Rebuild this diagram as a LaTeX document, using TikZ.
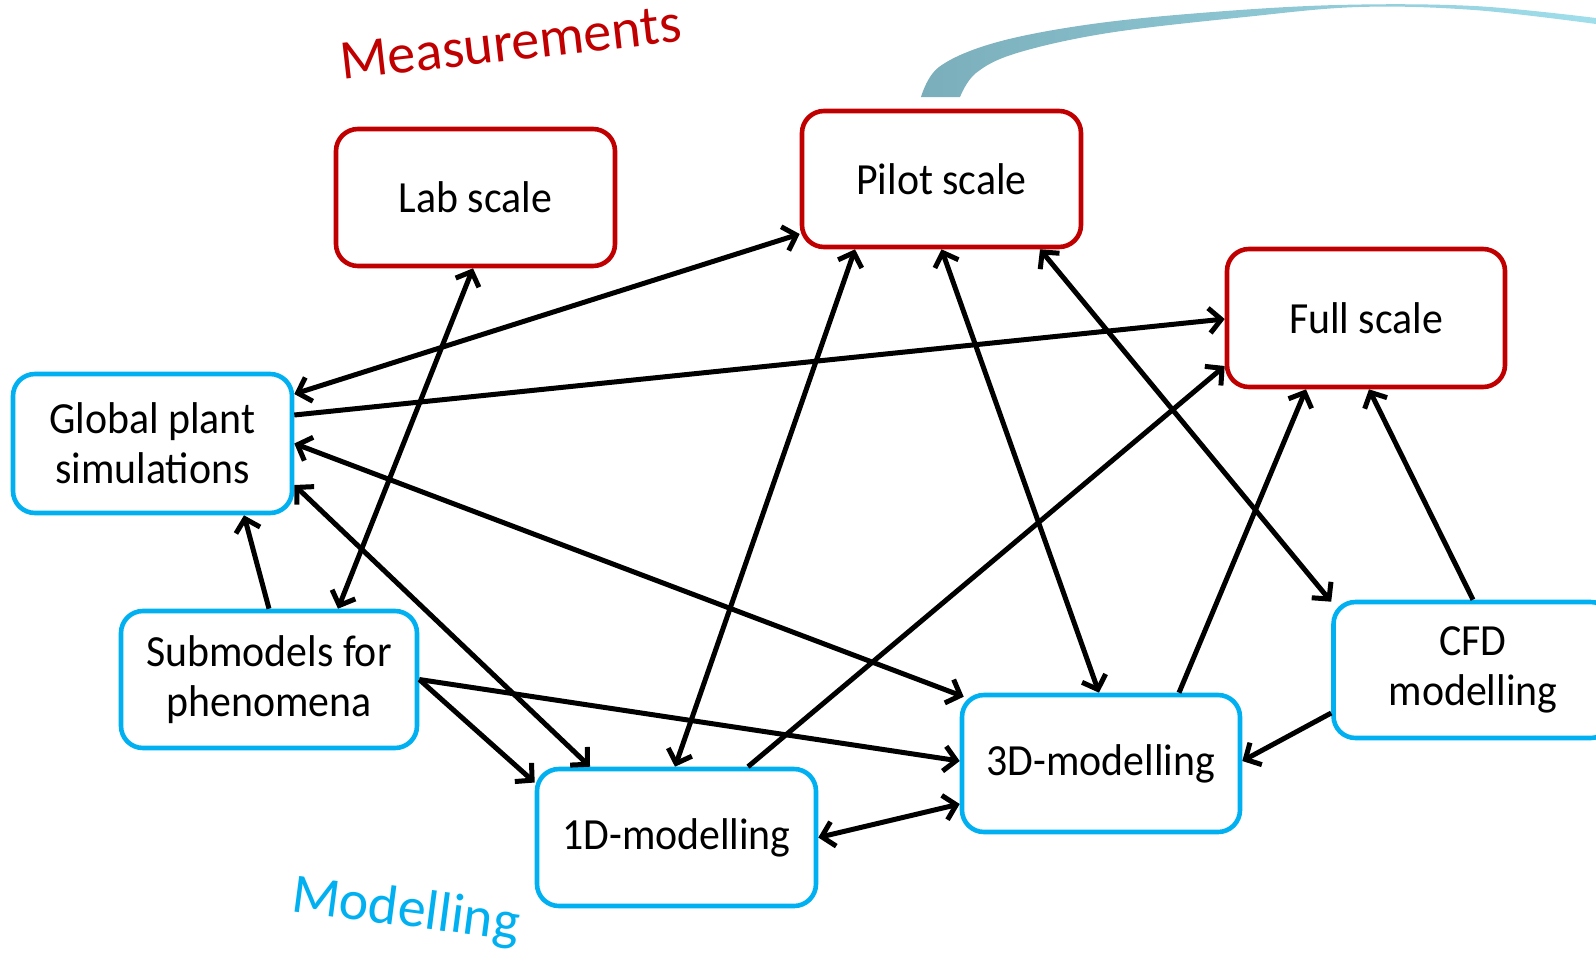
\documentclass[tikz,border=0pt]{standalone}
\usepackage{fontspec}
\setmainfont{Carlito}
\newfontfamily\boxfont[FakeStretch=0.94]{Carlito}
\usetikzlibrary{arrows.meta}
\definecolor{mred}{RGB}{192,0,0}
\definecolor{mblue}{RGB}{0,176,240}
\definecolor{swA}{RGB}{122,174,186}
\definecolor{swB}{RGB}{160,222,236}
\begin{document}
\begin{tikzpicture}[x=1pt,y=-1pt,
  box/.style={draw,line width=4.6pt,rounded corners=22pt,minimum width=279pt,minimum height=137pt,align=center,font=\boxfont\fontsize{44.5}{50}\selectfont,inner sep=0pt},
  meas/.style={box,draw=mred},
  modl/.style={box,draw=mblue},
  conn/.style={line width=5pt,black},
  >={Straight Barb[length=12pt,width=25pt]},
  lbl/.style={font=\fontsize{56}{60}\selectfont,inner sep=0pt}
]
\useasboundingbox (0,0) rectangle (1596,962);
\clip (0,0) rectangle (1596,962);
% swoosh
\shade[left color=swA,middle color=swA,right color=swB]
  plot[smooth,tension=0.6] coordinates {(921,97) (939,67) (994,43) (1085,25) (1200,13) (1337,5) (1474,6) (1596,18)}
  -- plot[smooth,tension=0.6] coordinates {(1596,24) (1474,10) (1359,7) (1245,17) (1108,33) (1017,53) (976,73) (960,97)}
  -- cycle;
% labels
\node[lbl,text=mred,anchor=base west,rotate=6.5] (measlbl) at (342,80) {Measurements};
\node[lbl,text=mblue,anchor=base west,rotate=-7.5] (modlbl) at (290,911) {Modelling};
% nodes
\node[meas] (lab) at (475.5,197.5) {Lab scale};
\node[meas,minimum height=136pt] (pilot) at (941.5,179) {Pilot scale};
\node[meas,minimum width=278pt,minimum height=138pt] (full) at (1366,318) {Full scale};
\node[modl,minimum height=139pt] (glob) at (152.5,443.5) {Global plant\\simulations};
\node[modl,minimum width=296pt] (sub) at (269,679.5) {Submodels for\\phenomena};
\node[modl,minimum height=136pt] (cfd) at (1473,670) {CFD\\modelling};
\node[modl,minimum width=278pt] (d3) at (1101,763.5) {3D-modelling};
\node[modl] (d1) at (676.5,837.5) {1D-modelling};
% connectors
\draw[conn,<->] ([xshift=-2.5pt]lab.south) -- ([xshift=69pt]sub.north);
\draw[conn,<->] ([yshift=49.5pt]glob.east) -- ([yshift=-55pt]pilot.west);
\draw[conn,->] ([yshift=28.5pt]glob.east) -- ([yshift=-1pt]full.west);
\draw[conn,<->] (glob.east) -- ([xshift=4pt,yshift=-4pt]d3.north west);
\draw[conn,<->] ([yshift=-41.5pt]glob.east) -- ([xshift=-86.5pt]d1.north);
\draw[conn,->] (sub.north) -- ([xshift=91.5pt]glob.south);
\draw[conn,->] (sub.east) -- ([yshift=2.5pt]d3.west);
\draw[conn,->] (sub.east) -- ([yshift=55pt]d1.west);
\draw[conn,<->] ([xshift=-86.5pt]pilot.south) -- ([xshift=-1.5pt]d1.north);
\draw[conn,<->] (pilot.south) -- ([xshift=-2pt]d3.north);
\draw[conn,<->] ([xshift=98.5pt]pilot.south) -- ([yshift=-2pt]cfd.north west);
\draw[conn,->] ([xshift=71.5pt]d1.north) -- ([yshift=-48pt]full.west);
\draw[conn,->] ([xshift=78pt]d3.north) -- ([xshift=-60pt]full.south);
\draw[conn,->] (cfd.north) -- ([xshift=3pt]full.south);
\draw[conn,->] ([yshift=-43pt]cfd.west) -- ([yshift=2.5pt]d3.east);
\draw[conn,<->] (d1.east) -- ([yshift=-40.5pt]d3.west);
\end{tikzpicture}
\end{document}
